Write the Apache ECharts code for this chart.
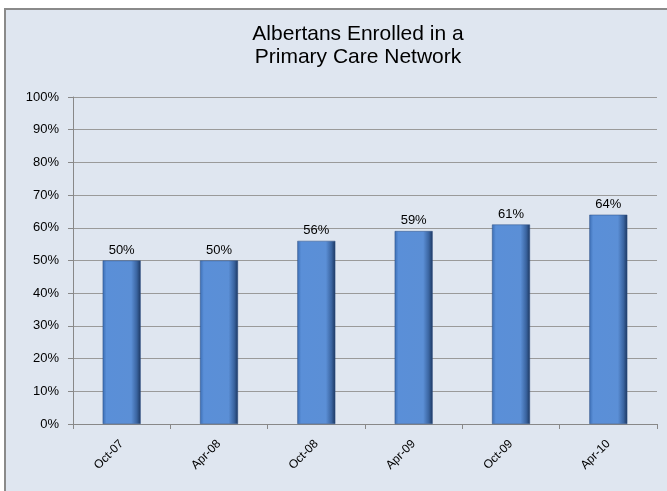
<!DOCTYPE html>
<html>
<head>
<meta charset="utf-8">
<script src="https://cdn.jsdelivr.net/npm/echarts@6/dist/echarts.min.js"></script>
<style>
html,body{margin:0;padding:0;background:#fff;}
#chart{width:667px;height:491px;}
</style>
</head>
<body>
<div id="chart"></div>
<script>
var categories = ['Oct-07','Apr-08','Oct-08','Apr-09','Oct-09','Apr-10'];
var values = [50, 50, 56, 59, 61, 64];
var yTicks = [0,10,20,30,40,50,60,70,80,90,100];

var chart = echarts.init(document.getElementById('chart'));
var barColor = new echarts.graphic.LinearGradient(0,0,1,0,[
  {offset:0, color:'#3c6eb4'},
  {offset:0.1, color:'#5a8fd8'},
  {offset:0.75, color:'#5b8fd6'},
  {offset:0.9, color:'#3a64a0'},
  {offset:1, color:'#1c3760'}
]);
chart.setOption({
  backgroundColor:'#ffffff',
  graphic:[{
    type:'rect', z:-10,
    shape:{x:5,y:9,width:680,height:500},
    style:{fill:'#dfe6f0', stroke:'#8a8a8a', lineWidth:2}
  }],
  title:{
    text:'Albertans Enrolled in a\nPrimary Care Network',
    left:353, textAlign:'center', top:18,
    textStyle:{fontFamily:'Liberation Sans, Arial', fontSize:21, fontWeight:'normal', color:'#000', lineHeight:23}
  },
  grid:{left:73, right:10, top:97, bottom:67},
  xAxis:{
    type:'category', data:categories,
    axisLine:{lineStyle:{color:'#888', width:1}},
    axisTick:{show:true, length:5, lineStyle:{color:'#888'}},
    axisLabel:{rotate:45, color:'#000', fontSize:12, fontFamily:'Liberation Sans, Arial', margin:18}
  },
  yAxis:{
    type:'value', min:yTicks[0], max:yTicks[yTicks.length-1], interval:10,
    axisLine:{show:true, lineStyle:{color:'#888'}},
    axisTick:{show:true, length:5, lineStyle:{color:'#888'}},
    axisLabel:{formatter:'{value}%', color:'#000', fontSize:13, fontFamily:'Liberation Sans, Arial', margin:14},
    splitLine:{lineStyle:{color:'#9a9a9a', width:1}}
  },
  series:[{
    type:'bar', data:values, barWidth:'39%',
    itemStyle:{color:barColor, borderColor:'#2a4c80', borderWidth:0.5},
    label:{show:true, position:'top', formatter:'{c}%', color:'#000', fontSize:13, fontFamily:'Liberation Sans, Arial', distance:4}
  }]
});
</script>
</body>
</html>
